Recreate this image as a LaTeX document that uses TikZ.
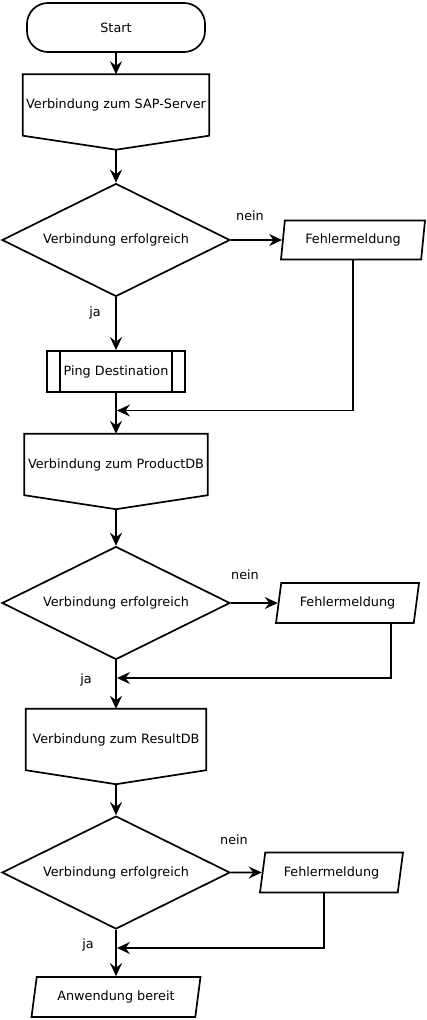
\documentclass[tikz,border=0pt]{standalone}
\usepackage{fontspec}
\setmainfont{DejaVu Sans}
\usetikzlibrary{shapes.geometric,arrows.meta}

\begin{document}
\begin{tikzpicture}[
            x=1pt, y=-1pt,
            font=\fontsize{12.8}{15}\selectfont,
            terminal/.style={shape=rectangle, rounded corners=21pt, draw=black, line width=1.7pt, minimum width=178pt, minimum height=49pt},
            seite/.style={shape=rectangle, inner sep=1pt, minimum height=61pt},
            entscheidung/.style={shape=diamond, aspect=2, draw=black, line width=1.7pt, minimum width=228pt, minimum height=113pt, inner sep=0pt},
            ausgabe/.style={shape=trapezium, trapezium left angle=70, trapezium right angle=110, trapezium stretches body, draw=black, line width=1.7pt, minimum width=143pt, minimum height=40pt, inner sep=1pt},
            prozess/.style={shape=rectangle, draw=black, line width=1.7pt, minimum width=138pt, minimum height=41pt},
            linie/.style={line width=1.7pt},
            pfeil/.style={line width=1.7pt, -{Stealth[length=13pt, width=12pt, inset=4.5pt]}},
        ]
        \useasboundingbox (0, 0) rectangle (427, 1020);

        \node[terminal] (start) at (116, 27.5) {Start};
        \node[seite, minimum width=186pt] (sap) at (116, 105) {Verbindung zum SAP-Server};
        \node[entscheidung] (e1) at (116, 240) {Verbindung erfolgreich};
        \node[ausgabe, trapezium left angle=75, trapezium right angle=105, minimum width=144pt, minimum height=39pt] (f1) at (353, 240) {Fehlermeldung};
        \node[prozess] (ping) at (116, 371.5) {Ping Destination};
        \node[seite, minimum width=183pt] (prod) at (116, 464.5) {Verbindung zum ProductDB};
        \node[entscheidung] (e2) at (116, 603) {Verbindung erfolgreich};
        \node[ausgabe] (f2) at (347.5, 603) {Fehlermeldung};
        \node[seite, minimum width=180pt] (res) at (116, 739.5) {Verbindung zum ResultDB};
        \node[entscheidung] (e3) at (116, 872.5) {Verbindung erfolgreich};
        \node[ausgabe] (f3) at (331.5, 872.5) {Fehlermeldung};
        \node[ausgabe, minimum width=169pt] (ende) at (116, 997) {Anwendung bereit};

        \node (nein1) at (250, 216) {nein};
        \node (nein2) at (245, 575) {nein};
        \node (nein3) at (234, 840) {nein};
        \node (ja1) at (95, 313) {ja};
        \node (ja2) at (86, 680) {ja};
        \node (ja3) at (88, 945) {ja};

        % Seitenverbinder
        \foreach \n in {sap,prod,res}
            \draw[linie] (\n.north west) -- (\n.north east) -- (\n.south east) -- ([yshift=-14pt]\n.south) -- (\n.south west) -- cycle;
        \draw[linie] ([xshift=14pt]ping.north west) -- ([xshift=14pt]ping.south west);
        \draw[linie] ([xshift=-14pt]ping.north east) -- ([xshift=-14pt]ping.south east);

        \coordinate (sapP) at ([yshift=-14pt]sap.south);
        \coordinate (prodP) at ([yshift=-14pt]prod.south);
        \coordinate (resP) at ([yshift=-14pt]res.south);
        \coordinate (j1) at (117, 410.5);
        \coordinate (j2) at (117, 678);
        \coordinate (j3) at (117, 948);

        \draw[pfeil] (start) -- (sap);
        \draw[pfeil] (sapP) -- (e1);
        \draw[pfeil] (e1) -- (f1);
        \draw[pfeil] (e1) -- (ping);
        \draw[pfeil] (ping) -- (prod);
        \draw[pfeil] (f1) |- (j1);
        \draw[pfeil] (prodP) -- (e2);
        \draw[pfeil] (e2) -- (f2);
        \draw[pfeil] (e2) -- (res);
        \draw[pfeil] ([xshift=43.5pt]f2.south) |- (j2);
        \draw[pfeil] (resP) -- (e3);
        \draw[pfeil] (e3) -- (f3);
        \draw[pfeil] (e3) -- (ende);
        \draw[pfeil] ([xshift=-7.5pt]f3.south) |- (j3);

    \end{tikzpicture}
\end{document}
